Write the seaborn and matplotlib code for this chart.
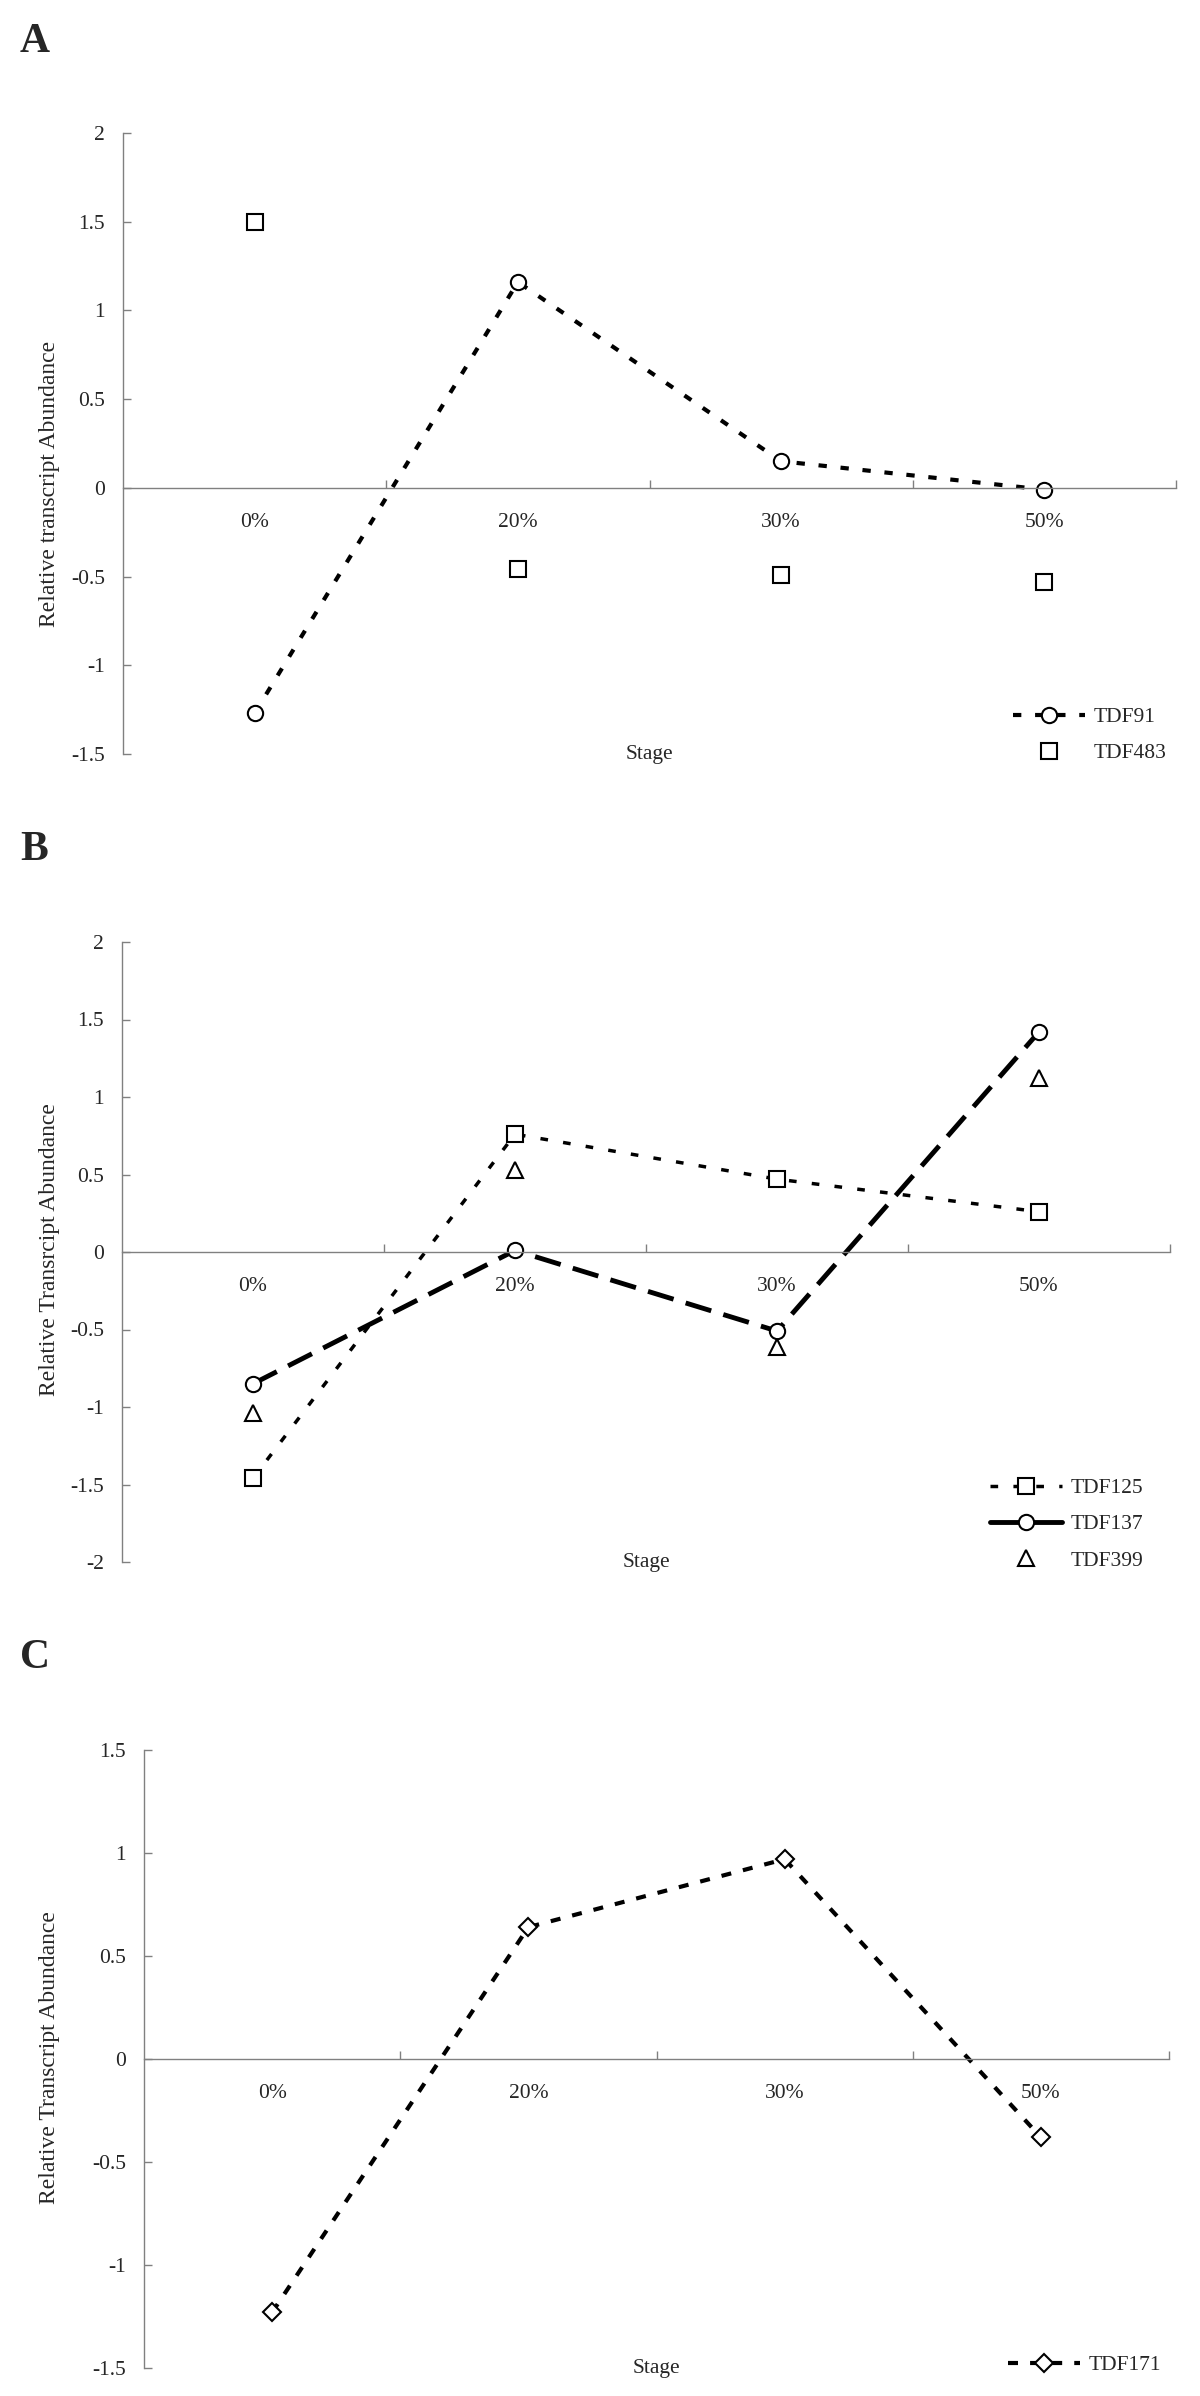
import numpy as np
import pandas as pd
import matplotlib
matplotlib.use("Agg")
import matplotlib.pyplot as plt
import seaborn as sns

# ---------------- data ----------------
stages = ["0%", "20%", "30%", "50%"]
tdf91 = [-1.27, 1.16, 0.15, -0.01]
tdf483 = [1.50, -0.46, -0.49, -0.53]
tdf125 = [-1.46, 0.76, 0.47, 0.26]
tdf137 = [-0.85, 0.01, -0.51, 1.42]
tdf399 = [-1.04, 0.53, -0.61, 1.12]
tdf171 = [-1.23, 0.64, 0.97, -0.38]

yticks_a = [-1.5, -1, -0.5, 0, 0.5, 1, 1.5, 2]
yticks_b = [-2, -1.5, -1, -0.5, 0, 0.5, 1, 1.5, 2]
yticks_c = [-1.5, -1, -0.5, 0, 0.5, 1, 1.5]

# ---------------- style ----------------
sns.set_style("white")
plt.rcParams["font.family"] = ["Liberation Serif", "DejaVu Serif"]

W, H = 1200, 2396
fig = plt.figure(figsize=(W / 100, H / 100), dpi=100)
FS = 15.5
GRAY = "#808080"


def axes_px(l, r, t, b):
    return fig.add_axes([l / W, 1 - b / H, (r - l) / W, (b - t) / H])


def series(ax, y, label, marker, ms, ls, lw):
    d = pd.DataFrame({"Stage": stages, "value": y})
    sns.lineplot(data=d, x="Stage", y="value", ax=ax, label=label,
                 color="black", marker=marker, markersize=ms,
                 markerfacecolor="white", markeredgecolor="black",
                 markeredgewidth=1.5, linestyle=ls, linewidth=lw,
                 sort=False, estimator=None)


def finish(ax, yticks, ylabel, left, right, top, bot, label_y_px):
    ax.set_xlim(-0.5, 3.5)
    ax.set_ylim(yticks[0], yticks[-1])
    for s in ["top", "right"]:
        ax.spines[s].set_visible(False)
    for s in ["left", "bottom"]:
        ax.spines[s].set_color(GRAY)
        ax.spines[s].set_linewidth(1.0)
    ax.spines["bottom"].set_position(("data", 0))
    ax.set_yticks(yticks, labels=[f"{v:g}" for v in yticks])
    ax.set_xticks(range(len(stages)), labels=stages)
    ax.set_xticks([0.5, 1.5, 2.5, 3.5], minor=True)
    ax.tick_params(axis="y", direction="in", length=6, width=1.0, color=GRAY,
                   pad=13, labelsize=FS, left=True)
    ax.tick_params(axis="x", which="major", length=0, pad=18, labelsize=FS,
                   bottom=True)
    ax.tick_params(axis="x", which="minor", direction="in", length=6,
                   width=1.0, color=GRAY, bottom=True)
    ax.set_xlabel("")
    ax.text(0.5, 0, "Stage", transform=ax.transAxes, ha="center",
            va="center", fontsize=FS)
    ax.set_ylabel(ylabel, fontsize=17)
    ax.yaxis.label.set_va("center")
    ax.yaxis.set_label_coords((50 - left) / (right - left),
                              (bot - label_y_px) / (bot - top))
    ax.grid(False)


def legend(ax, x_px, top_px, solid=None):
    handles, labels = ax.get_legend_handles_labels()
    leg = ax.legend(handles, labels, loc="upper left",
                    bbox_to_anchor=(x_px / W, 1 - top_px / H),
                    bbox_transform=fig.transFigure, frameon=False,
                    fontsize=FS, handlelength=3.35, handletextpad=0.4,
                    labelspacing=0.75, borderpad=0, borderaxespad=0)
    if solid is not None:
        for h, lab in zip(leg.get_lines(), labels):
            if lab == solid:
                h.set_linestyle("-")
    return leg


def letter(text, y_baseline_px):
    fig.text(20 / W, 1 - y_baseline_px / H, text, fontsize=30,
             fontweight="bold", ha="left", va="baseline")


# ---------------- panel A ----------------
L, R, T, B = 123, 1176, 133, 754
axA = axes_px(L, R, T, B)
series(axA, tdf91, "TDF91", "o", 11, (0, (2, 3.3)), 3)
series(axA, tdf483, "TDF483", "s", 12, "none", 0)
finish(axA, yticks_a, "Relative transcript Abundance", L, R, T, B, 484)
legend(axA, 1013, 707)
letter("A", 52)

# ---------------- panel B ----------------
L, R, T, B = 122, 1170, 942, 1562
axB = axes_px(L, R, T, B)
series(axB, tdf125, "TDF125", "s", 12, (0, (2.2, 4.4)), 2.5)
series(axB, tdf137, "TDF137", "o", 11, (0, (5.5, 2.6)), 3.5)
series(axB, tdf399, "TDF399", "^", 12, "none", 0)
finish(axB, yticks_b, "Relative Transrcipt Abundance", L, R, T, B, 1250)
legend(axB, 990, 1478, solid="TDF137")
letter("B", 860)

# ---------------- panel C ----------------
L, R, T, B = 144, 1169, 1750, 2368
axC = axes_px(L, R, T, B)
series(axC, tdf171, "TDF171", "D", 9.5, (0, (2.4, 2.9)), 3)
finish(axC, yticks_c, "Relative Transcript Abundance", L, R, T, B, 2058)
legend(axC, 1008, 2355)
letter("C", 1668)

fig.savefig("out.png", dpi=100, facecolor="white")
